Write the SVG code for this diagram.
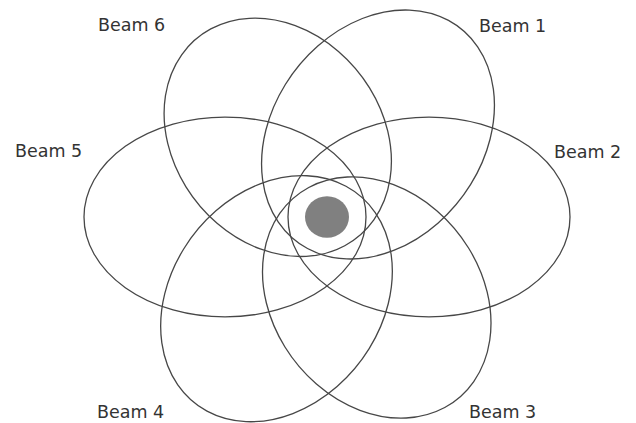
<svg xmlns="http://www.w3.org/2000/svg" width="636" height="423" viewBox="0 0 636 423">
<style>
.beam{fill:none;stroke:#474747;stroke-width:1.3;vector-effect:non-scaling-stroke}
.lbl{font-family:"DejaVu Sans",Verdana,sans-serif;font-size:17.5px;fill:#333}
</style>
<rect width="636" height="423" fill="#fff"/>
<g id="beams" transform="translate(327 217) scale(1 0.934)">
  <g id="beam1"><ellipse class="beam" cx="102" cy="0" rx="141" ry="107" transform="rotate(-60)"/></g>
  <g id="beam2"><ellipse class="beam" cx="102" cy="0" rx="141" ry="107"/></g>
  <g id="beam3"><ellipse class="beam" cx="99.5" cy="0" rx="136" ry="106" transform="rotate(60)"/></g>
  <g id="beam4"><ellipse class="beam" cx="101" cy="0" rx="139" ry="107" transform="rotate(120)"/></g>
  <g id="beam5"><ellipse class="beam" cx="102" cy="0" rx="141" ry="107" transform="rotate(180)"/></g>
  <g id="beam6"><ellipse class="beam" cx="98.5" cy="0" rx="134" ry="106" transform="rotate(240)"/></g>
</g>
<g id="core"><ellipse cx="327" cy="217" rx="22" ry="20.8" fill="#808080"/></g>
<g id="labels">
  <text class="lbl" x="479" y="32">Beam 1</text>
  <text class="lbl" x="554" y="158">Beam 2</text>
  <text class="lbl" x="469" y="418">Beam 3</text>
  <text class="lbl" x="97" y="418">Beam 4</text>
  <text class="lbl" x="15" y="157">Beam 5</text>
  <text class="lbl" x="98" y="31">Beam 6</text>
</g>
</svg>
